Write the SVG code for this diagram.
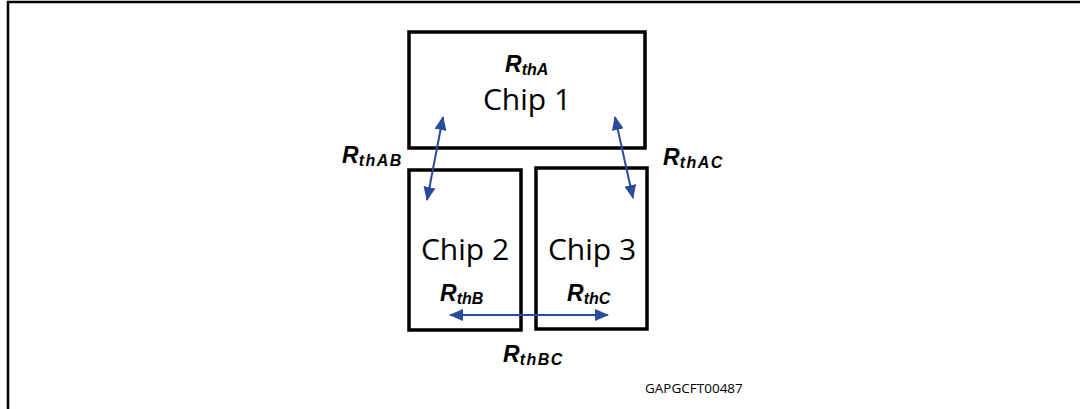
<svg xmlns="http://www.w3.org/2000/svg" width="1080" height="409" viewBox="0 0 1080 409">
<defs>
<marker id="ah" viewBox="0 0 14 12" refX="13" refY="6" markerWidth="14" markerHeight="12" markerUnits="userSpaceOnUse" orient="auto-start-reverse">
<path d="M0,0 L14,6 L0,12 Z" fill="#2b4c9b"/>
</marker>
<style>
.box{fill:none;stroke:#000;stroke-width:3.5}
.chip{font-family:"Open Sans","Noto Sans",sans-serif;font-size:30px;fill:#000;text-anchor:middle}
.r{font-family:"Liberation Sans",Arial,sans-serif;font-weight:bold;font-style:italic;font-size:23px;fill:#000}
.sub{font-size:16px}
.conn{stroke:#2b4c9b;stroke-width:2;fill:none;marker-start:url(#ah);marker-end:url(#ah)}
.code{font-family:"Open Sans","Noto Sans",sans-serif;font-size:13.5px;fill:#000}
</style>
</defs>
<rect width="1080" height="409" fill="#fff"/>
<path d="M8,409 V2 H1080" fill="none" stroke="#000" stroke-width="2.5"/>
<g id="chip1">
<rect class="box" x="409" y="32" width="236" height="116"/>
<text class="r" x="505" y="72">R<tspan class="sub" dy="3">thA</tspan></text>
<text class="chip" x="527" y="110">Chip 1</text>
</g>
<g id="chip2">
<rect class="box" x="409" y="170" width="112" height="160"/>
<text class="chip" x="465" y="260">Chip 2</text>
<text class="r" x="440" y="301">R<tspan class="sub" dy="3">thB</tspan></text>
</g>
<g id="chip3">
<rect class="box" x="536" y="168" width="111" height="161"/>
<text class="chip" x="592" y="260">Chip 3</text>
<text class="r" x="567" y="301">R<tspan class="sub" dy="3">thC</tspan></text>
</g>
<g id="connectors">
<line class="conn" x1="443" y1="117" x2="427" y2="200"/>
<line class="conn" x1="615" y1="117" x2="633" y2="198"/>
<line class="conn" x1="450" y1="315" x2="608" y2="315"/>
</g>
<g id="labels">
<text class="r" x="342" y="163">R<tspan class="sub" dy="3" letter-spacing="1.5">thAB</tspan></text>
<text class="r" x="663" y="165">R<tspan class="sub" dy="3" letter-spacing="1.5">thAC</tspan></text>
<text class="r" x="503" y="362">R<tspan class="sub" dy="3" letter-spacing="1.5">thBC</tspan></text>
<text class="code" x="645" y="393">GAPGCFT00487</text>
</g>
</svg>
